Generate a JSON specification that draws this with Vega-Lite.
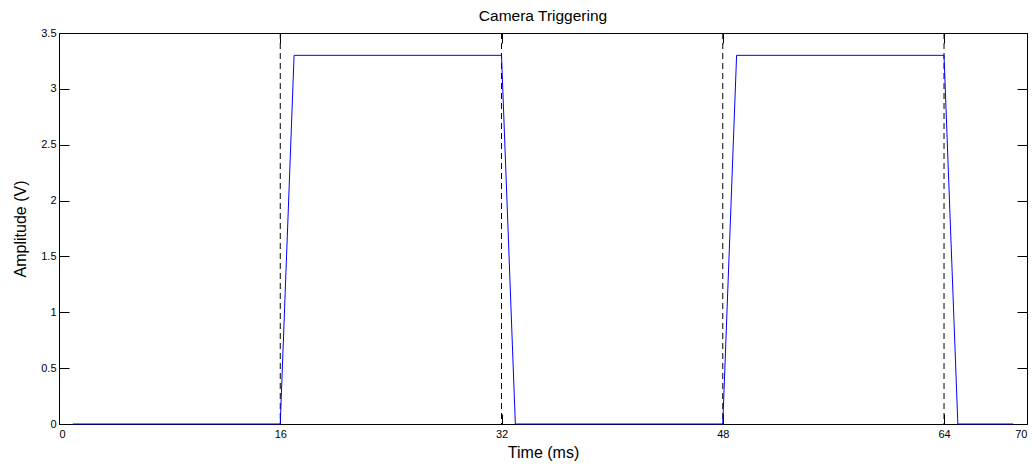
{
  "$schema": "https://vega.github.io/schema/vega-lite/v6.json",
  "width": 968,
  "height": 391,
  "autosize": {"type": "none"},
  "padding": {"left": 59, "top": 33, "right": 6, "bottom": 44},
  "background": "white",
  "title": {"text": "Camera Triggering", "font": "Liberation Sans", "fontSize": 15.5, "fontWeight": "normal", "color": "black", "offset": 3, "anchor": "middle"},
  "config": {
    "view": {"stroke": null},
    "axis": {"grid": false, "domainColor": "black", "tickColor": "black", "labelColor": "black", "titleColor": "black", "labelFont": "Liberation Sans", "titleFont": "Liberation Sans", "labelFontSize": 11, "titleFontSize": 16, "titleFontWeight": "normal", "tickSize": -10, "domainWidth": 1, "tickWidth": 1}
  },
  "datasets": {
    "signal": [
      {"t": 1, "v": 0}, {"t": 16, "v": 0}, {"t": 17, "v": 3.3}, {"t": 32, "v": 3.3}, {"t": 33, "v": 0},
      {"t": 48, "v": 0}, {"t": 49, "v": 3.3}, {"t": 64, "v": 3.3}, {"t": 65, "v": 0}, {"t": 69, "v": 0}
    ],
    "triggers": [{"t": 16}, {"t": 32}, {"t": 48}, {"t": 64}]
  },
  "layer": [
    {
      "data": {"name": "triggers"},
      "mark": {"type": "rule", "color": "black", "strokeDash": [6, 4], "strokeWidth": 1},
      "encoding": {
        "x": {"field": "t", "type": "quantitative", "scale": {"domain": [0, 70], "nice": false},
          "axis": {"orient": "top", "values": [0, 16, 32, 48, 64, 70], "labels": false, "title": null}}
      }
    },
    {
      "data": {"name": "signal"},
      "mark": {"type": "line", "color": "#0000ff", "strokeWidth": 1, "interpolate": "linear"},
      "encoding": {
        "x": {"field": "t", "type": "quantitative", "scale": {"domain": [0, 70], "nice": false},
          "axis": {"orient": "bottom", "values": [0, 16, 32, 48, 64, 70], "format": "d", "title": "Time (ms)", "labelPadding": 14, "titlePadding": 5}},
        "y": {"field": "v", "type": "quantitative", "scale": {"domain": [0, 3.5], "nice": false},
          "axis": {"orient": "left", "values": [0, 0.5, 1, 1.5, 2, 2.5, 3, 3.5], "format": "~g", "title": "Amplitude (V)", "labelPadding": 13, "titlePadding": 12}}
      }
    },
    {
      "data": {"name": "triggers"},
      "mark": {"type": "rule", "opacity": 0},
      "encoding": {
        "y": {"datum": 0, "type": "quantitative", "scale": {"domain": [0, 3.5], "nice": false},
          "axis": {"orient": "right", "values": [0, 0.5, 1, 1.5, 2, 2.5, 3, 3.5], "labels": false, "title": null}}
      }
    }
  ],
  "resolve": {"axis": {"x": "independent", "y": "independent"}}
}
